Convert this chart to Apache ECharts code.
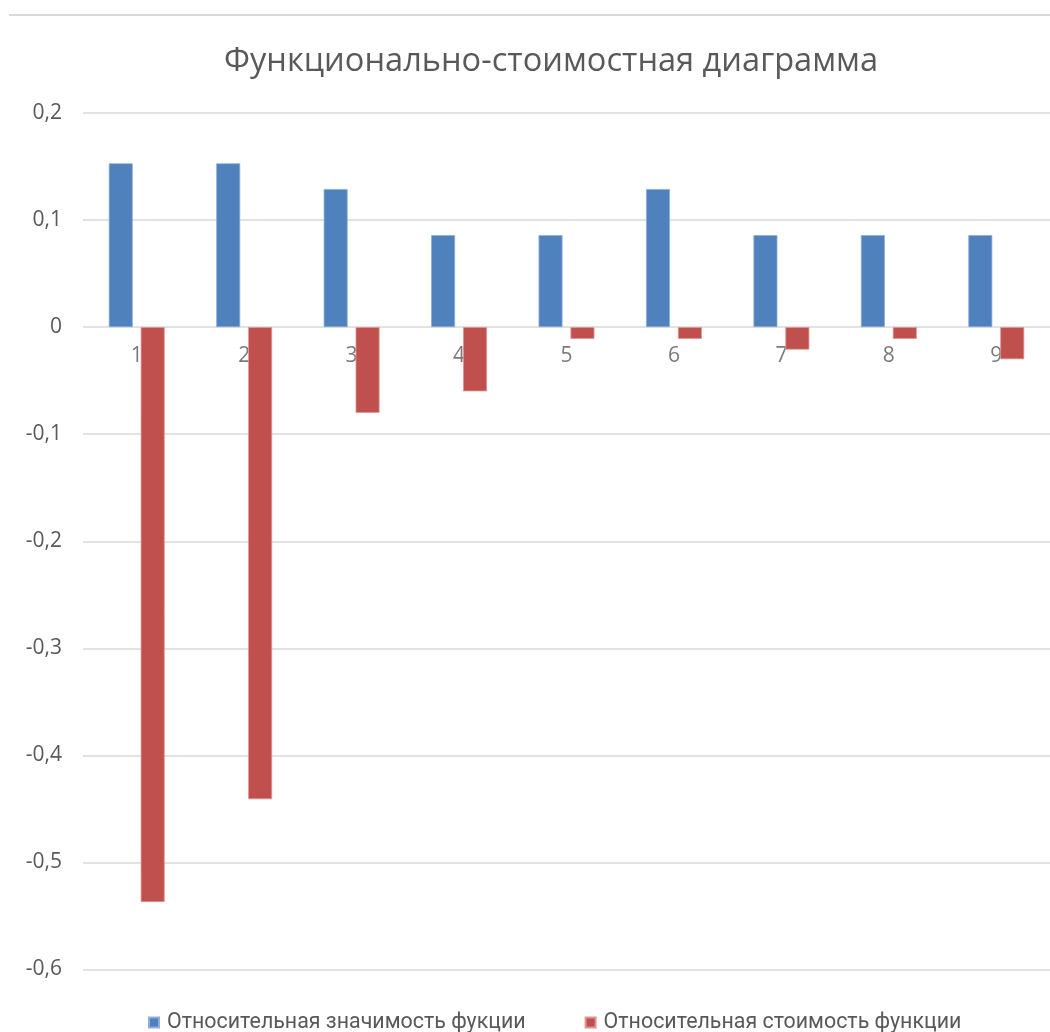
<!DOCTYPE html>
<html>
<head>
<meta charset="utf-8">
<script src="https://cdn.jsdelivr.net/npm/echarts@6/dist/echarts.min.js"></script>
<style>
html,body{margin:0;padding:0;background:#fff;}
#chart{width:1050px;height:1032px;}
</style>
</head>
<body>
<div id="chart"></div>
<script>
const categories = ['1','2','3','4','5','6','7','8','9'];
const seriesNames = ['Относительная значимость фукции', 'Относительная стоимость функции'];
const significance = [0.153, 0.153, 0.129, 0.086, 0.086, 0.129, 0.086, 0.086, 0.086];
const cost = [-0.537, -0.441, -0.080, -0.060, -0.011, -0.011, -0.021, -0.011, -0.030];
const titleText = 'Функционально-стоимостная диаграмма';

const chart = echarts.init(document.getElementById('chart'), null, {renderer: 'canvas'});
const fmt = v => {
  const r = Math.round(v * 10) / 10;
  return String(r).replace('.', ',');
};
const labelFont = "'Open Sans'";
chart.setOption({
  animation: false,
  backgroundColor: '#ffffff',
  title: {
    text: titleText,
    left: 219,
    top: 40,
    textStyle: {fontFamily: 'Open Sans', fontSize: 32.6, fontWeight: 'normal', color: '#595959'}
  },
  graphic: [{
    type: 'line',
    shape: {x1: 9, y1: 15, x2: 1050, y2: 15},
    style: {stroke: '#d9d9d9', lineWidth: 2}
  }],
  legend: {
    top: 1007,
    left: 143,
    itemWidth: 10,
    itemHeight: 10,
    itemGap: 59,
    icon: 'rect',
    textStyle: {fontFamily: "Roboto", fontSize: 21.4, color: '#595959', padding: [0, 0, 0, 3]},
    data: seriesNames
  },
  grid: {left: 83, right: -7, top: 113, bottom: 62.5, containLabel: false},
  xAxis: {
    type: 'category',
    data: categories,
    axisLine: {show: false},
    axisTick: {show: false},
    axisLabel: {show: false}
  },
  yAxis: {
    type: 'value',
    min: -0.6,
    max: 0.2,
    interval: 0.1,
    axisLine: {show: false},
    axisTick: {show: false},
    splitLine: {lineStyle: {color: '#d9d9d9', width: 1.5}},
    axisLabel: {fontFamily: labelFont, fontSize: 21, color: '#595959', margin: 21, formatter: fmt}
  },
  series: [
    {
      name: seriesNames[0],
      type: 'bar',
      data: significance,
      barWidth: 24,
      barGap: '33%',
      itemStyle: {color: '#4F81BD', borderColor: '#8eaedb', borderWidth: 0.8},
      z: 3
    },
    {
      name: seriesNames[1],
      type: 'bar',
      data: cost,
      barWidth: 24,
      barGap: '33%',
      itemStyle: {color: '#C0504D', borderColor: '#e09593', borderWidth: 0.8},
      z: 3
    },
    {
      name: 'categoryLabels',
      type: 'scatter',
      silent: true,
      symbolSize: 0,
      z: 1,
      data: categories.map(c => [c, 0]),
      label: {
        show: true,
        position: 'bottom',
        distance: 18,
        formatter: p => p.value[0],
        fontFamily: labelFont,
        fontSize: 21,
        color: '#595959'
      }
    }
  ]
});
</script>
</body>
</html>
